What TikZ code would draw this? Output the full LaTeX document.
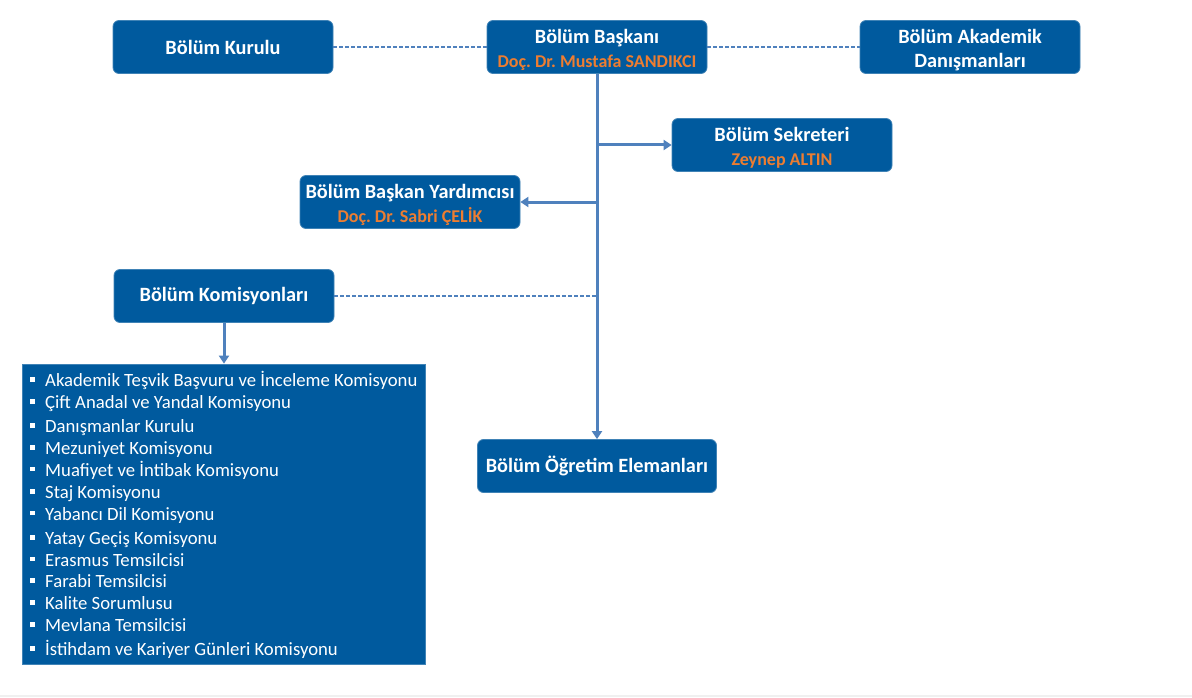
\documentclass[tikz,border=0pt]{standalone}
\usepackage{fontspec}
\setmainfont{Carlito}
\usetikzlibrary{arrows.meta}
\definecolor{boxblue}{RGB}{0,90,158}
\definecolor{lineblue}{RGB}{79,129,189}
\definecolor{nameorange}{RGB}{237,125,49}
\newcommand{\boxtext}[1]{\raisebox{-4pt}[\height][\depth]{\begin{tabular}{@{}c@{}}#1\end{tabular}}}
\newcommand{\personname}[1]{\textcolor{nameorange}{\fontsize{18}{25}\selectfont #1}}
\frenchspacing
\begin{document}
\frenchspacing
\begin{tikzpicture}[x=1pt,y=-1pt,
 orgbox/.style={rectangle, rounded corners=6pt, fill=boxblue, draw=boxblue!75!white, line width=0.8pt, minimum width=220pt, minimum height=53pt, inner sep=0pt, align=center, text=white, font=\fontsize{20.3}{24}\selectfont\bfseries},
 listbox/.style={rectangle, fill=boxblue, draw=boxblue!75!white, line width=0.8pt, minimum width=403pt, minimum height=300pt, inner sep=0pt},
 link/.style={draw=lineblue, line width=3pt},
 tip/.style={-{Triangle[width=10pt,length=8pt]}},
 dashlink/.style={draw=lineblue, line width=1.2pt, dash pattern=on 4pt off 2pt},
 item/.style={anchor=base west, text=white, font=\fontsize{18.7}{22}\selectfont, inner sep=0pt},
 bulletmark/.style={rectangle, fill=white, minimum size=4.5pt, inner sep=0pt}
]
\useasboundingbox (0,0) rectangle (1192,698);
\fill[white] (0,0) rectangle (1192,698);
\draw[black!6, line width=2pt] (0,696) -- (1192,696);

\node[orgbox] (kurulu) at (223,47) {Bölüm Kurulu};
\node[orgbox] (baskan) at (597,47) {\boxtext{Bölüm Başkanı\\\personname{Doç. Dr. Mustafa SANDIKCI}}};
\node[orgbox] (akademik) at (970,47) {\boxtext{Bölüm Akademik\\Danışmanları}};
\node[orgbox] (sekreter) at (782,145) {\boxtext{Bölüm Sekreteri\\\personname{Zeynep ALTIN}}};
\node[orgbox] (yardimci) at (410,202) {\boxtext{Bölüm Başkan Yardımcısı\\\personname{Doç. Dr. Sabri ÇELİK}}};
\node[orgbox] (komisyon) at (224,296) {Bölüm Komisyonları};
\node[orgbox, minimum width=239pt] (ogretim) at (597,466) {Bölüm Öğretim Elemanları};
\node[listbox] (liste) at (224,514) {};

\foreach \t/\y [count=\i] in {
 Akademik Teşvik Başvuru ve İnceleme Komisyonu/380.7,
 Çift Anadal ve Yandal Komisyonu/402.7,
 Danışmanlar Kurulu/426.7,
 Mezuniyet Komisyonu/448.7,
 Muafiyet ve İntibak Komisyonu/470,
 Staj Komisyonu/492.7,
 Yabancı Dil Komisyonu/514,
 Yatay Geçiş Komisyonu/538.3,
 Erasmus Temsilcisi/560,
 Farabi Temsilcisi/581.7,
 Kalite Sorumlusu/603.3,
 Mevlana Temsilcisi/625.3,
 İstihdam ve Kariyer Günleri Komisyonu/649.3}{
 \node[bulletmark] (b\i) at (32.5,\y-1) {};
 \node[item] (it\i) at (45,\y+6) {\t};
}

\coordinate (s1) at (597,145);
\coordinate (s2) at (597,202);
\coordinate (s3) at (597,296);

\draw[dashlink] (kurulu.east) -- (baskan.west);
\draw[dashlink] (baskan.east) -- (akademik.west);
\draw[dashlink] (komisyon.east) -- (s3);
\draw[link,tip] (baskan.south) -- (ogretim.north);
\draw[link,tip] (s1) -- (sekreter.west);
\draw[link,tip] (s2) -- (yardimci.east);
\draw[link,tip] (komisyon.south) -- (liste.north);
\end{tikzpicture}
\end{document}
